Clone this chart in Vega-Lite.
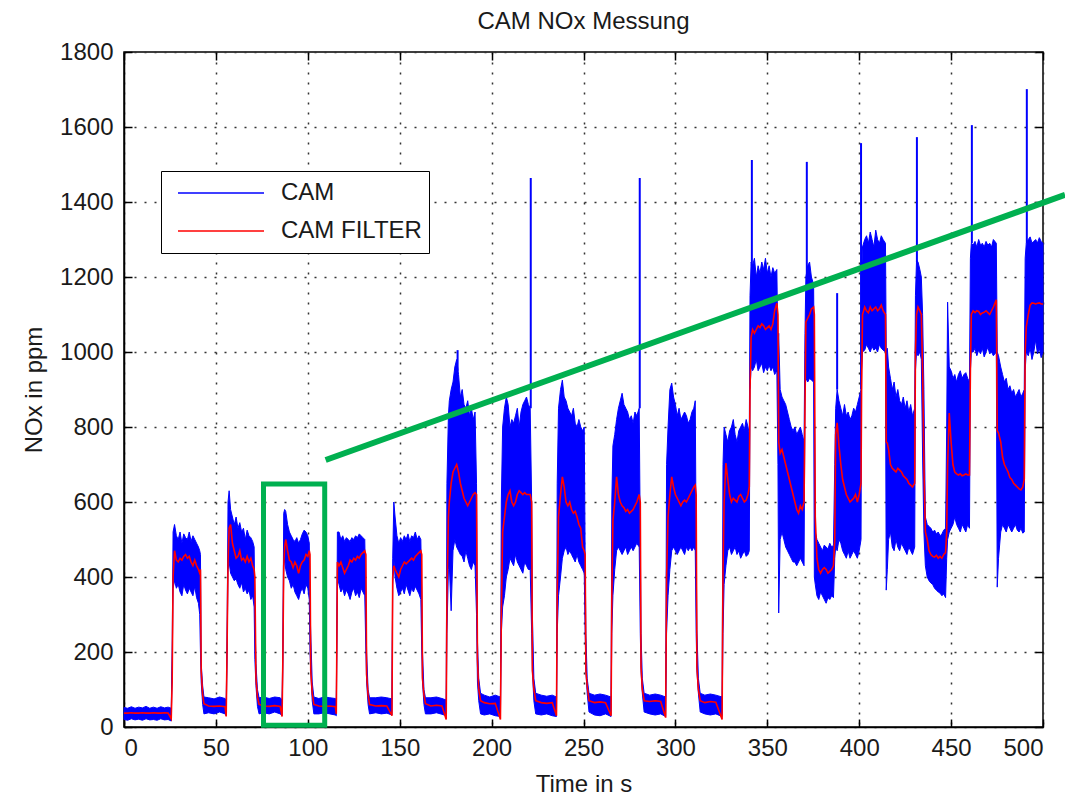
{
"$schema": "https://vega.github.io/schema/vega-lite/v6.json",
"width": 919, "height": 675,
"autosize": {"type": "none"},
"padding": {"left": 124, "top": 52, "right": 22, "bottom": 69},
"background": "white",
"title": {"text": "CAM NOx Messung", "fontSize": 24, "font": "Liberation Sans", "fontWeight": "normal", "color": "#1a1a1a", "offset": 6},
"datasets": {
"cam": [
{"t":0,"lo":20,"hi":52,"f":37},{"t":2,"lo":18,"hi":50,"f":37},{"t":4,"lo":22,"hi":54,"f":38},{"t":6,"lo":19,"hi":50,"f":37},{"t":8,"lo":21,"hi":53,"f":37},{"t":10,"lo":18,"hi":51,"f":38},{"t":12,"lo":22,"hi":55,"f":37},{"t":14,"lo":19,"hi":50,"f":37},{"t":16,"lo":20,"hi":53,"f":38},{"t":18,"lo":18,"hi":50,"f":37},{"t":20,"lo":22,"hi":54,"f":37},{"t":22,"lo":19,"hi":51,"f":38},{"t":24,"lo":20,"hi":53,"f":37},{"t":25.7,"lo":16,"hi":50,"f":22},
{"t":26.2,"lo":150,"hi":200,"f":120},{"t":26.7,"lo":370,"hi":520,"f":400},
{"t":27.5,"lo":390,"hi":540,"f":470},{"t":28.5,"lo":370,"hi":510,"f":445},{"t":29.5,"lo":380,"hi":500,"f":440},{"t":30.5,"lo":360,"hi":520,"f":450},{"t":31.5,"lo":350,"hi":490,"f":445},{"t":32.5,"lo":380,"hi":515,"f":455},{"t":33.5,"lo":365,"hi":505,"f":460},{"t":34.5,"lo":355,"hi":500,"f":450},{"t":35.5,"lo":370,"hi":520,"f":455},{"t":36.5,"lo":360,"hi":495,"f":440},{"t":37.5,"lo":350,"hi":510,"f":430},{"t":38.5,"lo":375,"hi":500,"f":445},{"t":39.5,"lo":345,"hi":490,"f":430},{"t":40.5,"lo":330,"hi":480,"f":420},{"t":41.2,"lo":300,"hi":470,"f":410},
{"t":41.6,"lo":200,"hi":460,"f":420},{"t":42.0,"lo":120,"hi":170,"f":150},{"t":42.8,"lo":60,"hi":110,"f":85},{"t":43.5,"lo":35,"hi":80,"f":62},
{"t":46,"lo":38,"hi":78,"f":56},{"t":49,"lo":35,"hi":75,"f":55},{"t":52,"lo":40,"hi":80,"f":56},{"t":55,"lo":35,"hi":76,"f":54},{"t":55.6,"lo":30,"hi":70,"f":28},
{"t":56.0,"lo":160,"hi":200,"f":180},{"t":56.6,"lo":420,"hi":600,"f":440},{"t":57.2,"lo":440,"hi":630,"f":530},
{"t":58,"lo":410,"hi":580,"f":540},{"t":59,"lo":400,"hi":560,"f":490},{"t":60,"lo":390,"hi":540,"f":470},{"t":61,"lo":395,"hi":560,"f":450},{"t":62,"lo":380,"hi":530,"f":455},{"t":63,"lo":370,"hi":545,"f":470},{"t":64,"lo":385,"hi":520,"f":445},{"t":65,"lo":360,"hi":530,"f":450},{"t":66,"lo":370,"hi":500,"f":440},{"t":67,"lo":355,"hi":525,"f":455},{"t":68,"lo":365,"hi":510,"f":440},{"t":69,"lo":340,"hi":505,"f":450},{"t":70,"lo":350,"hi":495,"f":430},{"t":70.8,"lo":320,"hi":480,"f":420},
{"t":71.2,"lo":180,"hi":300,"f":400},{"t":71.8,"lo":110,"hi":170,"f":130},{"t":72.6,"lo":55,"hi":100,"f":80},{"t":73.5,"lo":35,"hi":78,"f":60},
{"t":76,"lo":38,"hi":80,"f":56},{"t":79,"lo":35,"hi":76,"f":55},{"t":82,"lo":40,"hi":80,"f":57},{"t":85,"lo":35,"hi":78,"f":55},{"t":86,"lo":30,"hi":72,"f":28},
{"t":86.4,"lo":150,"hi":200,"f":170},{"t":86.9,"lo":420,"hi":570,"f":430},{"t":87.4,"lo":450,"hi":580,"f":480},
{"t":88,"lo":420,"hi":575,"f":500},{"t":89,"lo":400,"hi":540,"f":470},{"t":90,"lo":390,"hi":520,"f":445},{"t":91,"lo":370,"hi":510,"f":440},{"t":92,"lo":380,"hi":500,"f":425},{"t":93,"lo":360,"hi":495,"f":440},{"t":94,"lo":350,"hi":505,"f":430},{"t":95,"lo":340,"hi":490,"f":410},{"t":96,"lo":360,"hi":500,"f":430},{"t":97,"lo":370,"hi":515,"f":440},{"t":98,"lo":355,"hi":525,"f":445},{"t":99,"lo":380,"hi":520,"f":460},{"t":100,"lo":370,"hi":510,"f":455},{"t":100.8,"lo":340,"hi":490,"f":470},
{"t":101.2,"lo":200,"hi":320,"f":460},{"t":101.6,"lo":150,"hi":250,"f":150},{"t":102.4,"lo":70,"hi":120,"f":90},{"t":103.3,"lo":35,"hi":80,"f":60},
{"t":106,"lo":35,"hi":76,"f":56},{"t":109,"lo":38,"hi":80,"f":55},{"t":112,"lo":35,"hi":78,"f":56},{"t":115,"lo":32,"hi":76,"f":54},{"t":115.5,"lo":30,"hi":70,"f":35},
{"t":115.7,"lo":150,"hi":200,"f":150},{"t":116.1,"lo":400,"hi":520,"f":440},
{"t":117,"lo":380,"hi":520,"f":430},{"t":118,"lo":360,"hi":500,"f":440},{"t":119,"lo":370,"hi":510,"f":425},{"t":120,"lo":350,"hi":495,"f":410},{"t":121,"lo":365,"hi":505,"f":420},{"t":122,"lo":355,"hi":500,"f":430},{"t":123,"lo":340,"hi":495,"f":445},{"t":124,"lo":360,"hi":505,"f":440},{"t":125,"lo":370,"hi":500,"f":450},{"t":126,"lo":350,"hi":510,"f":445},{"t":127,"lo":360,"hi":505,"f":455},{"t":128,"lo":345,"hi":515,"f":450},{"t":129,"lo":370,"hi":510,"f":460},{"t":130,"lo":360,"hi":505,"f":465},{"t":131,"lo":350,"hi":500,"f":470},
{"t":131.6,"lo":200,"hi":320,"f":460},{"t":132,"lo":120,"hi":200,"f":140},{"t":132.8,"lo":60,"hi":100,"f":85},{"t":133.6,"lo":35,"hi":78,"f":60},
{"t":137,"lo":38,"hi":78,"f":56},{"t":140,"lo":35,"hi":80,"f":57},{"t":143,"lo":37,"hi":78,"f":56},{"t":145.8,"lo":32,"hi":75,"f":30},
{"t":146.2,"lo":380,"hi":450,"f":400},{"t":146.8,"lo":450,"hi":600,"f":430},
{"t":147.5,"lo":400,"hi":560,"f":420},{"t":148.5,"lo":370,"hi":510,"f":410},{"t":149.5,"lo":350,"hi":490,"f":400},{"t":150.5,"lo":360,"hi":505,"f":420},{"t":151.5,"lo":370,"hi":495,"f":430},{"t":152.5,"lo":355,"hi":510,"f":440},{"t":153.5,"lo":380,"hi":500,"f":435},{"t":154.5,"lo":365,"hi":515,"f":440},{"t":155.5,"lo":350,"hi":495,"f":445},{"t":156.5,"lo":370,"hi":510,"f":450},{"t":157.5,"lo":360,"hi":505,"f":445},{"t":158.5,"lo":375,"hi":520,"f":455},{"t":159.5,"lo":365,"hi":500,"f":460},{"t":160.5,"lo":355,"hi":510,"f":465},{"t":161.5,"lo":340,"hi":500,"f":470},
{"t":162,"lo":200,"hi":350,"f":460},{"t":162.4,"lo":120,"hi":200,"f":130},{"t":163.2,"lo":60,"hi":100,"f":85},{"t":164,"lo":35,"hi":78,"f":62},
{"t":167,"lo":35,"hi":78,"f":56},{"t":170,"lo":38,"hi":80,"f":58},{"t":173,"lo":34,"hi":76,"f":56},{"t":175.3,"lo":30,"hi":72,"f":20},
{"t":175.7,"lo":250,"hi":650,"f":350},{"t":176.5,"lo":420,"hi":830,"f":560},
{"t":177,"lo":430,"hi":870,"f":600},{"t":178,"lo":310,"hi":900,"f":650},{"t":179,"lo":470,"hi":920,"f":680},{"t":180,"lo":500,"hi":960,"f":690},{"t":181,"lo":480,"hi":980,"f":700},{"t":182,"lo":470,"hi":940,"f":680},{"t":183,"lo":460,"hi":880,"f":650},{"t":184,"lo":455,"hi":900,"f":630},{"t":185,"lo":440,"hi":860,"f":610},{"t":186,"lo":470,"hi":850,"f":600},{"t":187,"lo":450,"hi":870,"f":590},{"t":188,"lo":430,"hi":830,"f":600},{"t":189,"lo":420,"hi":850,"f":610},{"t":190,"lo":440,"hi":820,"f":620},{"t":191,"lo":430,"hi":840,"f":625},
{"t":191.8,"lo":300,"hi":650,"f":620},{"t":192.3,"lo":120,"hi":230,"f":180},{"t":193,"lo":70,"hi":130,"f":100},{"t":194,"lo":35,"hi":90,"f":70},
{"t":196,"lo":32,"hi":85,"f":65},{"t":199,"lo":35,"hi":80,"f":62},{"t":202,"lo":30,"hi":85,"f":63},{"t":204.8,"lo":28,"hi":80,"f":20},
{"t":205.3,"lo":250,"hi":600,"f":300},{"t":206,"lo":320,"hi":800,"f":520},
{"t":207,"lo":350,"hi":850,"f":560},{"t":208,"lo":400,"hi":880,"f":600},{"t":209,"lo":420,"hi":860,"f":620},{"t":210,"lo":450,"hi":800,"f":630},{"t":211,"lo":440,"hi":820,"f":600},{"t":212,"lo":430,"hi":810,"f":590},{"t":213,"lo":460,"hi":830,"f":600},{"t":214,"lo":440,"hi":850,"f":620},{"t":215,"lo":430,"hi":800,"f":630},{"t":216,"lo":420,"hi":840,"f":625},{"t":217,"lo":410,"hi":860,"f":620},{"t":218,"lo":440,"hi":870,"f":625},{"t":219,"lo":430,"hi":880,"f":620},{"t":220,"lo":420,"hi":860,"f":620},{"t":221,"lo":420,"hi":850,"f":620},
{"t":221.8,"lo":250,"hi":600,"f":600},{"t":222.2,"lo":150,"hi":300,"f":150},{"t":223,"lo":70,"hi":130,"f":100},{"t":224,"lo":35,"hi":90,"f":70},
{"t":227,"lo":32,"hi":85,"f":65},{"t":230,"lo":35,"hi":82,"f":63},{"t":233,"lo":30,"hi":85,"f":65},{"t":235.3,"lo":28,"hi":80,"f":30},
{"t":235.7,"lo":250,"hi":650,"f":350},{"t":236.4,"lo":350,"hi":850,"f":560},
{"t":237.5,"lo":400,"hi":900,"f":620},{"t":238.5,"lo":450,"hi":925,"f":667},{"t":239.5,"lo":470,"hi":880,"f":640},{"t":240.5,"lo":480,"hi":870,"f":600},{"t":241.5,"lo":460,"hi":850,"f":590},{"t":242.5,"lo":470,"hi":840,"f":600},{"t":243.5,"lo":460,"hi":830,"f":580},{"t":244.5,"lo":450,"hi":850,"f":570},{"t":245.5,"lo":440,"hi":810,"f":575},{"t":246.5,"lo":460,"hi":800,"f":560},{"t":247.5,"lo":440,"hi":820,"f":540},{"t":248.5,"lo":430,"hi":800,"f":530},{"t":249.5,"lo":420,"hi":790,"f":480},{"t":250.4,"lo":410,"hi":800,"f":470},
{"t":250.9,"lo":250,"hi":450,"f":460},{"t":251.3,"lo":150,"hi":250,"f":150},{"t":252,"lo":90,"hi":130,"f":110},{"t":253,"lo":40,"hi":90,"f":70},
{"t":256,"lo":32,"hi":85,"f":65},{"t":259,"lo":30,"hi":88,"f":67},{"t":262,"lo":35,"hi":85,"f":65},{"t":265,"lo":28,"hi":80,"f":30},
{"t":265.4,"lo":250,"hi":600,"f":350},{"t":266,"lo":350,"hi":750,"f":550},
{"t":267,"lo":420,"hi":780,"f":600},{"t":268,"lo":470,"hi":820,"f":667},{"t":269,"lo":480,"hi":850,"f":620},{"t":270,"lo":470,"hi":870,"f":600},{"t":271,"lo":460,"hi":890,"f":590},{"t":272,"lo":470,"hi":860,"f":585},{"t":273,"lo":480,"hi":850,"f":575},{"t":274,"lo":460,"hi":840,"f":580},{"t":275,"lo":470,"hi":820,"f":570},{"t":276,"lo":480,"hi":830,"f":575},{"t":277,"lo":470,"hi":810,"f":580},{"t":278,"lo":480,"hi":840,"f":590},{"t":279,"lo":490,"hi":830,"f":600},{"t":280.3,"lo":480,"hi":850,"f":620},
{"t":280.9,"lo":250,"hi":500,"f":600},{"t":281.3,"lo":150,"hi":250,"f":160},{"t":282,"lo":90,"hi":130,"f":100},{"t":283,"lo":40,"hi":90,"f":70},
{"t":286,"lo":35,"hi":85,"f":68},{"t":289,"lo":32,"hi":88,"f":70},{"t":292,"lo":35,"hi":85,"f":68},{"t":294.7,"lo":28,"hi":80,"f":25},
{"t":295.2,"lo":250,"hi":700,"f":400},{"t":296,"lo":350,"hi":800,"f":560},
{"t":297,"lo":420,"hi":900,"f":620},{"t":298,"lo":470,"hi":917,"f":667},{"t":299,"lo":480,"hi":880,"f":640},{"t":300,"lo":470,"hi":860,"f":620},{"t":301,"lo":460,"hi":830,"f":610},{"t":302,"lo":470,"hi":850,"f":600},{"t":303,"lo":480,"hi":820,"f":590},{"t":304,"lo":470,"hi":830,"f":600},{"t":305,"lo":460,"hi":840,"f":605},{"t":306,"lo":480,"hi":830,"f":600},{"t":307,"lo":470,"hi":810,"f":610},{"t":308,"lo":480,"hi":820,"f":620},{"t":309,"lo":470,"hi":840,"f":630},{"t":310,"lo":480,"hi":850,"f":640},{"t":310.8,"lo":470,"hi":870,"f":645},
{"t":311.3,"lo":250,"hi":480,"f":620},{"t":311.7,"lo":150,"hi":260,"f":160},{"t":312.5,"lo":90,"hi":130,"f":100},{"t":313.5,"lo":40,"hi":90,"f":70},
{"t":316,"lo":35,"hi":85,"f":65},{"t":319,"lo":32,"hi":88,"f":68},{"t":322,"lo":35,"hi":85,"f":66},{"t":325.4,"lo":28,"hi":80,"f":20},
{"t":325.9,"lo":250,"hi":700,"f":420},{"t":326.5,"lo":380,"hi":800,"f":600},
{"t":327.5,"lo":430,"hi":780,"f":704},{"t":328.5,"lo":470,"hi":760,"f":660},{"t":329.5,"lo":480,"hi":790,"f":620},{"t":330.5,"lo":460,"hi":800,"f":600},{"t":331.5,"lo":470,"hi":820,"f":610},{"t":332.5,"lo":480,"hi":780,"f":605},{"t":333.5,"lo":460,"hi":760,"f":600},{"t":334.5,"lo":470,"hi":790,"f":615},{"t":335.5,"lo":450,"hi":800,"f":620},{"t":336.5,"lo":460,"hi":810,"f":610},{"t":337.5,"lo":470,"hi":790,"f":600},{"t":338.5,"lo":455,"hi":820,"f":605},{"t":339.5,"lo":460,"hi":800,"f":620},{"t":340.2,"lo":470,"hi":780,"f":640},
{"t":340.6,"lo":900,"hi":1150,"f":900},{"t":341.2,"lo":960,"hi":1240,"f":1040},
{"t":342,"lo":950,"hi":1230,"f":1060},{"t":343,"lo":960,"hi":1250,"f":1050},{"t":344,"lo":980,"hi":1200,"f":1060},{"t":345,"lo":950,"hi":1230,"f":1070},{"t":346,"lo":960,"hi":1210,"f":1065},{"t":347,"lo":970,"hi":1240,"f":1075},{"t":348,"lo":945,"hi":1220,"f":1070},{"t":349,"lo":960,"hi":1250,"f":1060},{"t":350,"lo":950,"hi":1210,"f":1065},{"t":351,"lo":965,"hi":1230,"f":1070},{"t":352,"lo":950,"hi":1200,"f":1060},{"t":353,"lo":960,"hi":1225,"f":1075},{"t":354,"lo":940,"hi":1210,"f":1110},{"t":355.2,"lo":950,"hi":1220,"f":1130},
{"t":355.8,"lo":700,"hi":1000,"f":1100},{"t":356.2,"lo":304,"hi":1050,"f":760},{"t":357,"lo":500,"hi":900,"f":730},
{"t":358,"lo":520,"hi":880,"f":740},{"t":359,"lo":500,"hi":870,"f":720},{"t":360,"lo":480,"hi":860,"f":700},{"t":361,"lo":470,"hi":840,"f":680},{"t":362,"lo":460,"hi":820,"f":660},{"t":363,"lo":450,"hi":800,"f":640},{"t":364,"lo":440,"hi":790,"f":620},{"t":365,"lo":440,"hi":800,"f":600},{"t":366,"lo":430,"hi":780,"f":580},{"t":367,"lo":440,"hi":790,"f":570},{"t":368,"lo":450,"hi":800,"f":590},{"t":369,"lo":440,"hi":780,"f":580},{"t":370,"lo":430,"hi":760,"f":600},
{"t":370.5,"lo":900,"hi":1050,"f":850},{"t":371,"lo":930,"hi":1200,"f":1080},
{"t":372,"lo":920,"hi":1230,"f":1090},{"t":373,"lo":930,"hi":1240,"f":1100},{"t":374,"lo":925,"hi":1200,"f":1115},{"t":375.2,"lo":920,"hi":1180,"f":1120},
{"t":375.6,"lo":400,"hi":900,"f":1100},{"t":376.1,"lo":380,"hi":520,"f":560},{"t":377,"lo":350,"hi":500,"f":450},
{"t":378,"lo":340,"hi":490,"f":420},{"t":379,"lo":360,"hi":480,"f":410},{"t":380,"lo":350,"hi":470,"f":420},{"t":381,"lo":340,"hi":485,"f":425},{"t":382,"lo":330,"hi":480,"f":420},{"t":383,"lo":345,"hi":475,"f":410},{"t":384,"lo":340,"hi":490,"f":415},{"t":385,"lo":350,"hi":480,"f":420},{"t":386,"lo":345,"hi":485,"f":430},
{"t":386.7,"lo":450,"hi":700,"f":500},{"t":387.2,"lo":480,"hi":850,"f":780},
{"t":388,"lo":470,"hi":900,"f":811},{"t":389,"lo":500,"hi":870,"f":750},{"t":390,"lo":490,"hi":850,"f":700},{"t":391,"lo":470,"hi":830,"f":660},{"t":392,"lo":460,"hi":860,"f":640},{"t":393,"lo":450,"hi":830,"f":620},{"t":394,"lo":470,"hi":840,"f":610},{"t":395,"lo":450,"hi":820,"f":600},{"t":396,"lo":460,"hi":830,"f":605},{"t":397,"lo":470,"hi":850,"f":610},{"t":398,"lo":460,"hi":840,"f":620},{"t":399,"lo":450,"hi":860,"f":600},{"t":400,"lo":470,"hi":880,"f":620},{"t":401,"lo":500,"hi":900,"f":650},
{"t":401.3,"lo":950,"hi":1200,"f":900},{"t":401.8,"lo":1000,"hi":1280,"f":1100},
{"t":403,"lo":1005,"hi":1300,"f":1120},{"t":404,"lo":1020,"hi":1310,"f":1110},{"t":405,"lo":1010,"hi":1290,"f":1105},{"t":406,"lo":1000,"hi":1320,"f":1120},{"t":407,"lo":1015,"hi":1300,"f":1110},{"t":408,"lo":1005,"hi":1280,"f":1115},{"t":409,"lo":1010,"hi":1325,"f":1120},{"t":410,"lo":1000,"hi":1300,"f":1110},{"t":411,"lo":1020,"hi":1290,"f":1115},{"t":412,"lo":1010,"hi":1310,"f":1125},{"t":413,"lo":1005,"hi":1300,"f":1110},{"t":414.3,"lo":1000,"hi":1290,"f":1100},
{"t":414.7,"lo":365,"hi":1000,"f":760},{"t":415.3,"lo":420,"hi":1010,"f":757},
{"t":416,"lo":500,"hi":960,"f":740},{"t":417,"lo":520,"hi":930,"f":700},{"t":418,"lo":480,"hi":900,"f":690},{"t":419,"lo":470,"hi":920,"f":685},{"t":420,"lo":500,"hi":880,"f":680},{"t":421,"lo":480,"hi":900,"f":690},{"t":422,"lo":470,"hi":870,"f":685},{"t":423,"lo":490,"hi":860,"f":680},{"t":424,"lo":480,"hi":880,"f":670},{"t":425,"lo":470,"hi":850,"f":665},{"t":426,"lo":460,"hi":870,"f":660},{"t":427,"lo":480,"hi":840,"f":650},{"t":428,"lo":470,"hi":860,"f":645},{"t":429,"lo":460,"hi":830,"f":640},{"t":430.2,"lo":480,"hi":850,"f":650},
{"t":430.6,"lo":950,"hi":1150,"f":1000},{"t":431.2,"lo":1000,"hi":1245,"f":1100},
{"t":432,"lo":990,"hi":1240,"f":1120},{"t":433,"lo":1000,"hi":1220,"f":1110},{"t":433.8,"lo":980,"hi":1200,"f":1100},
{"t":434.5,"lo":720,"hi":1100,"f":950},{"t":435.2,"lo":520,"hi":900,"f":700},{"t":436,"lo":430,"hi":560,"f":520},
{"t":437,"lo":400,"hi":540,"f":500},{"t":438,"lo":390,"hi":535,"f":470},{"t":439,"lo":384,"hi":530,"f":460},{"t":440,"lo":380,"hi":520,"f":455},{"t":441,"lo":370,"hi":525,"f":453},{"t":442,"lo":365,"hi":515,"f":458},{"t":443,"lo":360,"hi":520,"f":450},{"t":444,"lo":357,"hi":510,"f":455},{"t":445,"lo":350,"hi":515,"f":450},{"t":446,"lo":355,"hi":525,"f":460},{"t":447,"lo":345,"hi":530,"f":465},
{"t":447.6,"lo":450,"hi":800,"f":520},{"t":448.1,"lo":500,"hi":1133,"f":700},
{"t":449,"lo":520,"hi":960,"f":837},{"t":450,"lo":530,"hi":950,"f":760},{"t":451,"lo":540,"hi":930,"f":700},{"t":452,"lo":560,"hi":940,"f":680},{"t":453,"lo":540,"hi":920,"f":675},{"t":454,"lo":530,"hi":940,"f":672},{"t":455,"lo":520,"hi":950,"f":675},{"t":456,"lo":540,"hi":930,"f":670},{"t":457,"lo":530,"hi":940,"f":672},{"t":458,"lo":520,"hi":945,"f":675},{"t":459,"lo":540,"hi":930,"f":672},{"t":460,"lo":530,"hi":920,"f":672},
{"t":460.5,"lo":950,"hi":1250,"f":950},{"t":461,"lo":1000,"hi":1290,"f":1100},
{"t":462,"lo":1000,"hi":1285,"f":1110},{"t":463,"lo":1010,"hi":1295,"f":1105},{"t":464,"lo":990,"hi":1280,"f":1110},{"t":465,"lo":1005,"hi":1300,"f":1108},{"t":466,"lo":995,"hi":1285,"f":1100},{"t":467,"lo":1010,"hi":1290,"f":1104},{"t":468,"lo":987,"hi":1280,"f":1106},{"t":469,"lo":1000,"hi":1295,"f":1110},{"t":470,"lo":1013,"hi":1285,"f":1105},{"t":471,"lo":995,"hi":1290,"f":1100},{"t":472,"lo":1000,"hi":1280,"f":1110},{"t":473,"lo":990,"hi":1300,"f":1120},{"t":474.6,"lo":1000,"hi":1290,"f":1139},
{"t":475.1,"lo":373,"hi":1000,"f":790},{"t":475.8,"lo":450,"hi":990,"f":784},
{"t":477,"lo":520,"hi":960,"f":760},{"t":478,"lo":540,"hi":940,"f":720},{"t":479,"lo":530,"hi":920,"f":700},{"t":480,"lo":520,"hi":930,"f":690},{"t":481,"lo":540,"hi":900,"f":680},{"t":482,"lo":530,"hi":910,"f":665},{"t":483,"lo":520,"hi":890,"f":660},{"t":484,"lo":530,"hi":900,"f":650},{"t":485,"lo":540,"hi":880,"f":645},{"t":486,"lo":525,"hi":890,"f":640},{"t":487,"lo":520,"hi":900,"f":635},{"t":488,"lo":530,"hi":880,"f":632},{"t":489,"lo":517,"hi":890,"f":640},{"t":489.8,"lo":520,"hi":900,"f":660},
{"t":490.3,"lo":950,"hi":1250,"f":1000},{"t":490.9,"lo":1000,"hi":1290,"f":1067},
{"t":492,"lo":990,"hi":1300,"f":1100},{"t":493,"lo":1010,"hi":1307,"f":1125},{"t":494,"lo":980,"hi":1291,"f":1131},{"t":495,"lo":1000,"hi":1295,"f":1130},{"t":496,"lo":1032,"hi":1300,"f":1128},{"t":497,"lo":995,"hi":1291,"f":1130},{"t":498,"lo":1010,"hi":1305,"f":1131},{"t":499,"lo":985,"hi":1295,"f":1128},{"t":500,"lo":1000,"hi":1290,"f":1128}
],
"spikes": [
{"t":181.5,"b":950,"top":1005},{"t":221.3,"b":850,"top":1464},{"t":280.6,"b":850,"top":1464},{"t":341.6,"b":1230,"top":1512},{"t":371.5,"b":1200,"top":1507},{"t":388,"b":900,"top":1157},{"t":401,"b":900,"top":1557},{"t":431.4,"b":1240,"top":1573},{"t":461.3,"b":1290,"top":1605},{"t":491.2,"b":1290,"top":1701}
],
"box": [{"t1":75.9,"t2":109.2,"y1":5,"y2":648}],
"trend": [{"t":109.7,"v":712},{"t":512,"v":1419}]
},
"resolve": {"axis": {"x": "independent", "y": "independent"}},
"layer": [
{
"data": {"name": "cam"},
"mark": {"type": "area", "opacity": 1, "stroke": "#0000ff", "strokeWidth": 1},
"encoding": {
"x": {"field": "t", "type": "quantitative", "scale": {"domain": [0, 500], "nice": false, "zero": false},
"axis": {"orient": "bottom", "values": [0,50,100,150,200,250,300,350,400,450,500], "format": "d", "title": "Time in s", "grid": true, "tickSize": -8, "labelPadding": 17, "titlePadding": 12}},
"y": {"field": "lo", "type": "quantitative", "scale": {"domain": [0, 1800], "nice": false},
"axis": {"orient": "left", "values": [0,200,400,600,800,1000,1200,1400,1600,1800], "format": "d", "title": "NOx in ppm", "grid": true, "tickSize": -8, "labelPadding": 19, "titlePadding": 13}},
"y2": {"field": "hi"},
"color": {"datum": "CAM", "type": "nominal", "scale": {"domain": ["CAM", "CAM FILTER"], "range": ["#0000ff", "#ff0000"]},
"legend": {"orient": "none", "legendX": 37, "legendY": 119, "title": null, "symbolType": "stroke", "symbolSize": 7396, "symbolStrokeWidth": 1.5, "labelFontSize": 24, "labelFont": "Liberation Sans", "labelColor": "#1a1a1a", "strokeColor": "black", "fillColor": "white", "padding": 7, "clipHeight": 30, "rowPadding": 8, "symbolOffset": 9, "labelOffset": 16}}
}
},
{
"data": {"name": "spikes"},
"mark": {"type": "rule", "color": "#0000ff", "strokeWidth": 2},
"encoding": {
"x": {"field": "t", "type": "quantitative", "axis": {"orient": "top", "values": [0,50,100,150,200,250,300,350,400,450,500], "labels": false, "title": null, "grid": false, "domain": false, "tickSize": -8}},
"y": {"field": "b", "type": "quantitative", "axis": {"orient": "right", "values": [0,200,400,600,800,1000,1200,1400,1600,1800], "labels": false, "title": null, "grid": false, "domain": false, "tickSize": -8}},
"y2": {"field": "top"}
}
},
{
"data": {"name": "cam"},
"mark": {"type": "line", "strokeWidth": 1.6, "interpolate": "linear"},
"encoding": {
"x": {"field": "t", "type": "quantitative", "axis": null},
"y": {"field": "f", "type": "quantitative", "axis": null},
"color": {"datum": "CAM FILTER", "type": "nominal"}
}
},
{
"data": {"name": "box"},
"mark": {"type": "rect", "fillOpacity": 0, "stroke": "#00b050", "strokeWidth": 5},
"encoding": {
"x": {"field": "t1", "type": "quantitative", "axis": null},
"x2": {"field": "t2"},
"y": {"field": "y1", "type": "quantitative", "axis": null},
"y2": {"field": "y2"}
}
},
{
"data": {"name": "trend"},
"mark": {"type": "line", "color": "#00b050", "strokeWidth": 6, "clip": false},
"encoding": {
"x": {"field": "t", "type": "quantitative", "axis": null},
"y": {"field": "v", "type": "quantitative", "axis": null}
}
}
],
"config": {
"view": {"stroke": "black", "strokeWidth": 1.5},
"axis": {"labelFont": "Liberation Sans", "labelFontSize": 24, "titleFont": "Liberation Sans", "titleFontSize": 24, "titleFontWeight": "normal", "labelColor": "#1a1a1a", "titleColor": "#1a1a1a", "domainColor": "black", "domainWidth": 1.5, "tickColor": "black", "tickWidth": 1.5, "gridColor": "#333333", "gridDash": [2, 8], "gridWidth": 1.5, "gridOpacity": 1}
}
}
